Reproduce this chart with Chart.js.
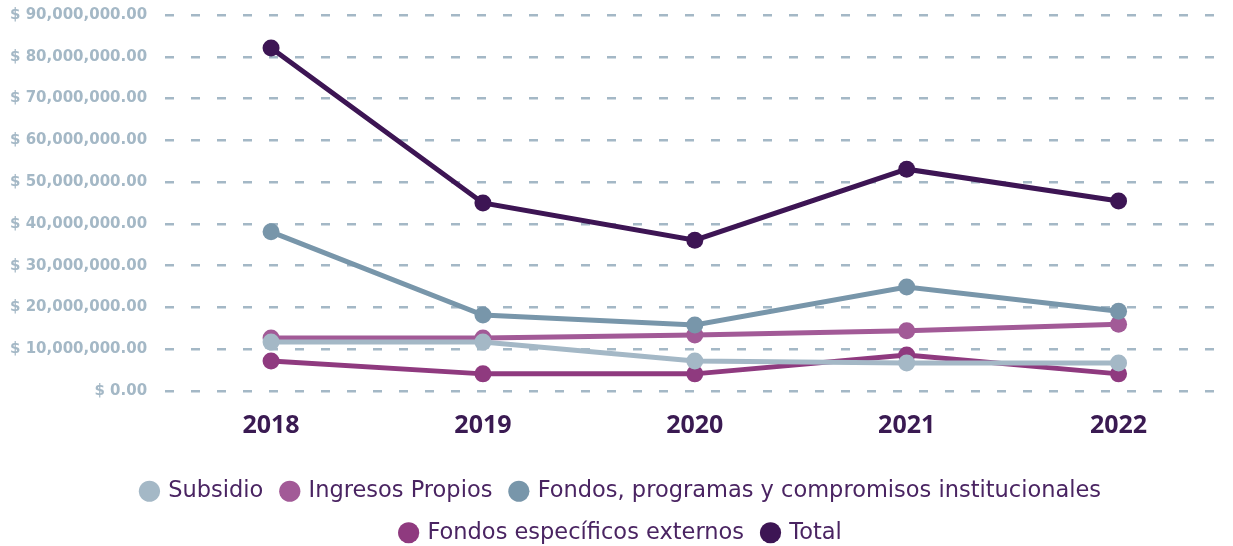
<!DOCTYPE html>
<html>
<head>
<meta charset="utf-8">
<script src="https://cdn.jsdelivr.net/npm/chart.js@4/dist/chart.umd.min.js"></script>
<style>
  html, body { margin: 0; padding: 0; background: #ffffff; }
  #wrap { width: 1233px; height: 546px; position: relative; }
</style>
</head>
<body>
<div id="wrap"><canvas id="chart"></canvas></div>
<script>
// ── data ──
const years = ['2018', '2019', '2020', '2021', '2022'];

const subsidio        = [11700000, 11700000, 7200000, 6700000, 6700000];
const ingresosPropios = [12700000, 12700000, 13400000, 14400000, 16000000];
const fondosProgramas = [38100000, 18200000, 15800000, 24900000, 19100000];
const fondosExternos  = [7200000, 4100000, 4100000, 8600000, 4100000];
const total           = [82100000, 45000000, 36100000, 53100000, 45500000];

const yTicks = { min: 0, max: 90000000, step: 10000000 };

// ── colours ──
const C_SUB  = '#a4b8c6';
const C_ING  = '#a25a97';
const C_FON  = '#7896aa';
const C_EXT  = '#8f3a7f';
const C_TOT  = '#3d1554';
const C_TEXT = '#4a2462';

function series(label, data, color, order) {
  return {
    label, data, order,
    borderColor: color,
    backgroundColor: color,
    borderWidth: 5,
    pointRadius: 8.5,
    pointHoverRadius: 8.5,
    pointBorderWidth: 0,
    tension: 0
  };
}

const money = v => '$ ' + v.toLocaleString('en-US', { minimumFractionDigits: 2, maximumFractionDigits: 2 });

new Chart(document.getElementById('chart'), {
  type: 'line',
  data: {
    labels: years,
    datasets: [
      series('Subsidio', subsidio, C_SUB, 2),
      series('Ingresos Propios', ingresosPropios, C_ING, 4),
      series('Fondos, programas y compromisos institucionales', fondosProgramas, C_FON, 1),
      series('Fondos específicos externos', fondosExternos, C_EXT, 3),
      series('Total', total, C_TOT, 0)
    ]
  },
  options: {
    responsive: true,
    maintainAspectRatio: false,
    animation: false,
    layout: { padding: { top: 15, left: 10, right: 0, bottom: -8 } },
    scales: {
      x: {
        offset: true,
        grid: { display: false, drawTicks: false },
        border: { display: false },
        ticks: {
          color: '#3a1a52',
          padding: 20,
          font: { family: 'Open Sans', size: 25, weight: 'bold' }
        }
      },
      y: {
        min: yTicks.min,
        max: yTicks.max,
        grid: {
          color: C_SUB,
          lineWidth: 2.5,
          drawTicks: true,
          tickLength: 18,
          tickColor: 'rgba(0,0,0,0)'
        },
        border: { display: false, dash: [9, 17] },
        ticks: {
          stepSize: yTicks.step,
          color: C_SUB,
          padding: 0,
          font: { family: 'DejaVu Sans', size: 15, weight: 'bold' },
          callback: v => money(v)
        }
      }
    },
    plugins: {
      legend: {
        position: 'bottom',
        labels: {
          usePointStyle: true,
          pointStyle: 'circle',
          boxWidth: 15,
          boxHeight: 15,
          padding: 19,
          color: C_TEXT,
          font: { family: 'DejaVu Sans', size: 22.5 },
          sort: (a, b) => a.datasetIndex - b.datasetIndex
        }
      },
      tooltip: { enabled: false }
    }
  }
});
</script>
</body>
</html>
